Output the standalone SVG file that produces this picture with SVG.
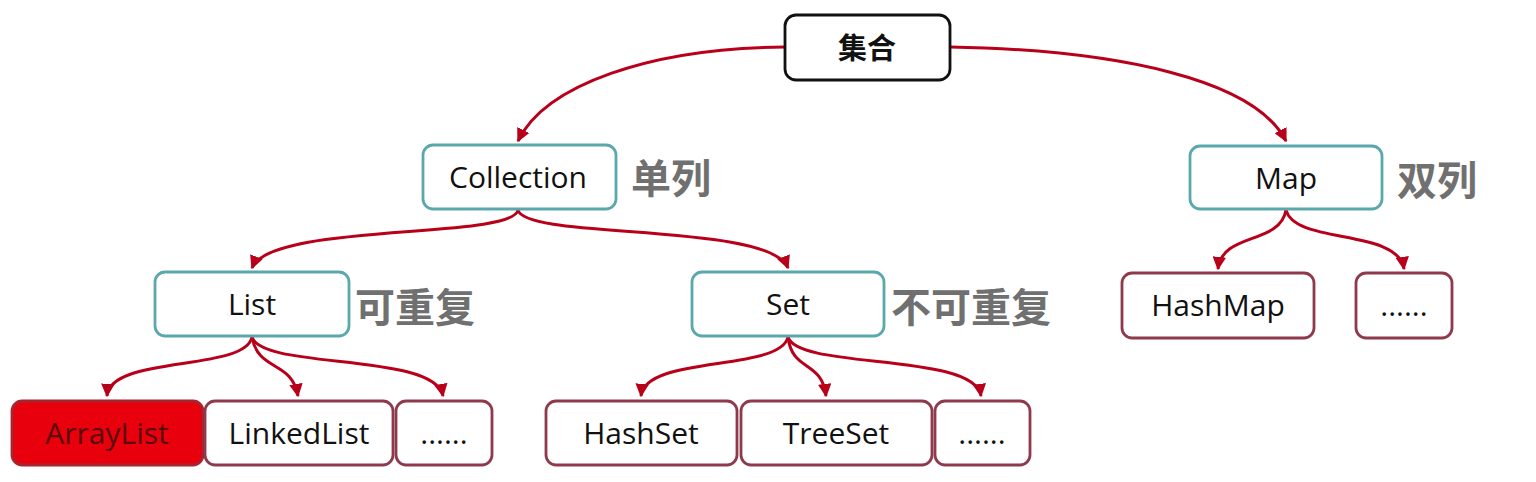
<svg xmlns="http://www.w3.org/2000/svg" width="1536" height="482" viewBox="0 0 1536 482">
<defs>
<marker id="ah" viewBox="0 0 10 10" refX="9" refY="5" markerWidth="4.5" markerHeight="4.5" orient="auto" markerUnits="strokeWidth">
<path d="M0,0 L10,5 L0,10 z" fill="#b8001a"/>
</marker>
<style>
.root{fill:#fff;stroke:#111;stroke-width:2.8}
.mid{fill:#fff;stroke:#5ba8ac;stroke-width:2.8}
.leaf{fill:#fff;stroke:#8e3a4c;stroke-width:2.8}
.hl{fill:#e8000c;stroke:#a8242f;stroke-width:2.8}
.t{font-family:"Open Sans","Noto Sans CJK SC",sans-serif;font-size:30px;fill:#111;text-anchor:middle;dominant-baseline:central}
.hlt{fill:#5a0a0a}
.lab{font-family:"Noto Sans CJK SC",sans-serif;font-size:40px;font-weight:bold;fill:#707070;dominant-baseline:central}
.c{fill:none;stroke:#b8001a;stroke-width:3;marker-end:url(#ah)}
</style>
</defs>
<rect width="1536" height="482" fill="#fff"/>
<g id="connectors">
<path class="c" d="M785,47 C650,48 545,85 518,141"/>
<path class="c" d="M950,47 C1120,50 1255,80 1286,141"/>
<path class="c" d="M518,210 C512,240 270,222 252,268"/>
<path class="c" d="M518,210 C525,240 770,222 788,268"/>
<path class="c" d="M252,337 C245,372 110,355 107,396"/>
<path class="c" d="M252,337 C258,372 292,360 298,396"/>
<path class="c" d="M252,337 C262,370 435,352 443,396"/>
<path class="c" d="M788,337 C780,372 645,355 641,396"/>
<path class="c" d="M788,337 C792,372 822,360 826,396"/>
<path class="c" d="M788,337 C798,370 975,352 981,396"/>
<path class="c" d="M1286,210 C1280,245 1222,232 1218,269"/>
<path class="c" d="M1286,210 C1295,245 1398,228 1404,269"/>
</g>
<g id="n-jihe"><rect class="root" x="785" y="15" width="165" height="65" rx="11"/><text class="t" x="867" y="47" style="font-size:29px;font-weight:600">集合</text></g>
<g id="n-collection"><rect class="mid" x="423" y="145" width="193" height="64" rx="10"/><text class="t" x="518" y="176">Collection</text></g>
<text class="lab" x="631" y="176">单列</text>
<g id="n-map"><rect class="mid" x="1190" y="146" width="192" height="63" rx="10"/><text class="t" x="1286" y="177">Map</text></g>
<text class="lab" x="1397" y="178">双列</text>
<g id="n-list"><rect class="mid" x="155" y="272" width="194" height="64" rx="10"/><text class="t" x="252" y="303">List</text></g>
<text class="lab" x="355" y="305">可重复</text>
<g id="n-set"><rect class="mid" x="692" y="272" width="192" height="64" rx="10"/><text class="t" x="788" y="303">Set</text></g>
<text class="lab" x="891" y="305">不可重复</text>
<g id="n-hashmap"><rect class="leaf" x="1122" y="273" width="192" height="65" rx="10"/><text class="t" x="1218" y="304">HashMap</text></g>
<g id="n-mapmore"><rect class="leaf" x="1356" y="273" width="96" height="65" rx="10"/><text class="t" x="1404" y="304">......</text></g>
<g id="n-arraylist"><rect class="hl" x="12" y="401" width="191" height="64" rx="10"/><text class="t hlt" x="107" y="432">ArrayList</text></g>
<g id="n-linkedlist"><rect class="leaf" x="205" y="401" width="188" height="64" rx="10"/><text class="t" x="299" y="432">LinkedList</text></g>
<g id="n-listmore"><rect class="leaf" x="396" y="401" width="96" height="64" rx="10"/><text class="t" x="444" y="432">......</text></g>
<g id="n-hashset"><rect class="leaf" x="546" y="401" width="191" height="64" rx="10"/><text class="t" x="641" y="432">HashSet</text></g>
<g id="n-treeset"><rect class="leaf" x="741" y="401" width="191" height="64" rx="10"/><text class="t" x="836" y="432">TreeSet</text></g>
<g id="n-setmore"><rect class="leaf" x="935" y="401" width="95" height="64" rx="10"/><text class="t" x="982" y="432">......</text></g>
</svg>
